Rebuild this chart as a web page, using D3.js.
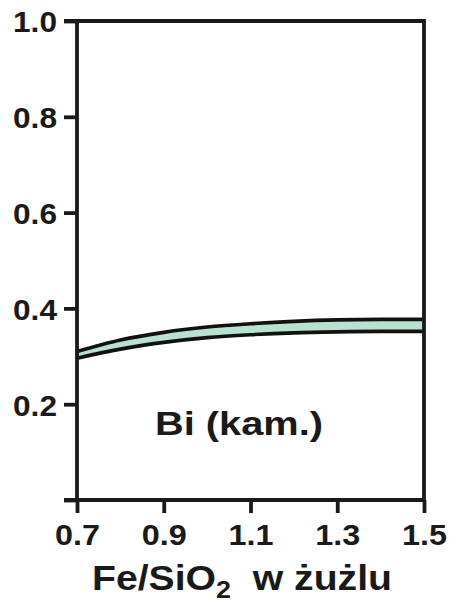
<!DOCTYPE html>
<html><head><meta charset="utf-8">
<script src="https://cdn.jsdelivr.net/npm/d3@7"></script>
<style>html,body{margin:0;padding:0;background:#fff;}svg{display:block;}</style>
</head><body>
<script>
const xValues = [0.7, 0.8, 0.9, 1.0, 1.1, 1.2, 1.3, 1.4, 1.5];
const upperValues = [0.310, 0.334, 0.350, 0.361, 0.368, 0.373, 0.376, 0.377, 0.377];
const lowerValues = [0.296, 0.315, 0.329, 0.339, 0.345, 0.349, 0.351, 0.352, 0.352];
const xTicks = [0.7, 0.9, 1.1, 1.3, 1.5];
const yTicks = [0, 0.2, 0.4, 0.6, 0.8, 1.0];
const yTickLabels = ["", "0.2", "0.4", "0.6", "0.8", "1.0"];
const xTickLabels = ["0.7", "0.9", "1.1", "1.3", "1.5"];
const label = "Bi (kam.)";

const W = 450, H = 603;
const svg = d3.select("body").append("svg").attr("width", W).attr("height", H);
const x = d3.scaleLinear().domain([0.7, 1.5]).range([77, 424]);
const y = d3.scaleLinear().domain([0, 1]).range([500, 21]);
const font = "'Liberation Sans', Arial, Helvetica, sans-serif";
const sw = 3.8, tick = 13;

const data = xValues.map((v, i) => ({x: v, u: upperValues[i], l: lowerValues[i]}));
const curve = d3.curveMonotoneX;

svg.append("path").datum(data)
  .attr("d", d3.area().x(d => x(d.x)).y0(d => y(d.l)).y1(d => y(d.u)).curve(curve))
  .attr("fill", "#b8e2cf");
svg.append("path").datum(data)
  .attr("d", d3.line().x(d => x(d.x)).y(d => y(d.u)).curve(curve))
  .attr("fill", "none").attr("stroke", "#111").attr("stroke-width", 3.6);
svg.append("path").datum(data)
  .attr("d", d3.line().x(d => x(d.x)).y(d => y(d.l)).curve(curve))
  .attr("fill", "none").attr("stroke", "#111").attr("stroke-width", 3.6);

// Left axis
const yAxis = d3.axisLeft(y).tickValues(yTicks).tickSize(tick).tickPadding(7)
  .tickFormat((d, i) => yTickLabels[i]);
const gy = svg.append("g").attr("transform", `translate(${x(0.7)},0)`).call(yAxis);
gy.select(".domain").remove();
gy.append("line").attr("x1", 0).attr("x2", 0).attr("y1", y(1)).attr("y2", y(0))
  .attr("stroke", "#1a1a1a").attr("stroke-width", sw);
gy.selectAll(".tick line").attr("stroke", "#1a1a1a").attr("stroke-width", sw);
gy.selectAll(".tick text").attr("font-family", font).attr("font-weight", "bold")
  .attr("font-size", 30).attr("fill", "#1a1a1a").attr("dy", "0.36em")
  .attr("textLength", 44).attr("lengthAdjust", "spacingAndGlyphs");

// Bottom axis
const xAxis = d3.axisBottom(x).tickValues(xTicks).tickSize(tick).tickPadding(10)
  .tickFormat((d, i) => xTickLabels[i]);
const gx = svg.append("g").attr("transform", `translate(0,${y(0)})`).call(xAxis);
gx.select(".domain").remove();
gx.append("line").attr("x1", x(0.7) - tick).attr("x2", x(1.5)).attr("y1", 0).attr("y2", 0)
  .attr("stroke", "#1a1a1a").attr("stroke-width", sw);
gx.selectAll(".tick line").attr("stroke", "#1a1a1a").attr("stroke-width", sw);
gx.selectAll(".tick text").attr("font-family", font).attr("font-weight", "bold")
  .attr("font-size", 30).attr("fill", "#1a1a1a").attr("dy", "0.72em")
  .attr("textLength", 45).attr("lengthAdjust", "spacingAndGlyphs");

// Top and right border
svg.append("line").attr("x1", x(0.7) - tick).attr("x2", x(1.5) + sw/2).attr("y1", y(1)).attr("y2", y(1))
  .attr("stroke", "#1a1a1a").attr("stroke-width", sw);
svg.append("line").attr("x1", x(1.5)).attr("x2", x(1.5)).attr("y1", y(1)).attr("y2", y(0))
  .attr("stroke", "#1a1a1a").attr("stroke-width", sw);

// Label
svg.append("text").attr("x", 155).attr("y", 435)
  .attr("font-family", font).attr("font-weight", "bold").attr("font-size", 34)
  .attr("fill", "#1a1a1a").attr("textLength", 168).attr("lengthAdjust", "spacingAndGlyphs")
  .text(label);

// X axis title
const t = svg.append("text").attr("x", 92).attr("y", 590)
  .attr("font-family", font).attr("font-weight", "bold").attr("font-size", 35)
  .attr("fill", "#1a1a1a").attr("textLength", 300).attr("lengthAdjust", "spacingAndGlyphs");
t.append("tspan").text("Fe/SiO");
t.append("tspan").attr("font-size", 24).attr("dy", 8).text("2");
t.append("tspan").attr("dy", -8).text("\u00a0 w żużlu");
</script>
</body></html>
